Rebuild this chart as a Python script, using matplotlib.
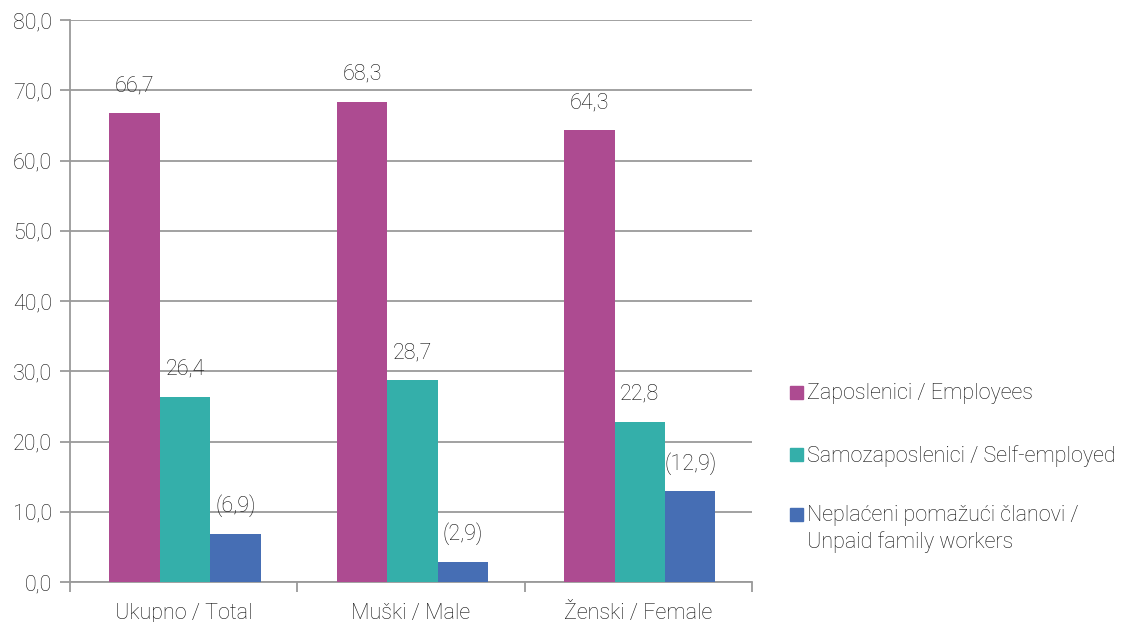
import numpy as np
import matplotlib.pyplot as plt
from matplotlib import patches

plt.rcParams['font.family'] = ['Roboto', 'DejaVu Sans']
plt.rcParams['font.weight'] = 'light'

# Podaci
categories = ["Ukupno / Total", "Muški / Male", "Ženski / Female"]
series = ["Zaposlenici / Employees",
          "Samozaposlenici / Self-employed",
          "Neplaćeni pomažući članovi /\nUnpaid family workers"]
employees = [66.7, 68.3, 64.3]
self_employed = [26.4, 28.7, 22.8]
unpaid = [6.9, 2.9, 12.9]
unpaid_labels = ["(6,9)", "(2,9)", "(12,9)"]
colors = ["#AD4B91", "#34AFAA", "#466EB4"]

FS = 15.5
TXT = "#111111"

fig = plt.figure(figsize=(11.24, 6.22), dpi=100)
ax = fig.add_axes([0.0623, 0.0643, 0.6068, 0.9035])

x = np.arange(len(categories))
w = 0.222
values = [employees, self_employed, unpaid]
for i, (vals, col) in enumerate(zip(values, colors)):
    pos = x + (i - 1) * w + 0.006
    ax.bar(pos, vals, width=w, color=col, zorder=3)
    for p, v, j in zip(pos, vals, range(len(vals))):
        if i == 2:
            txt = unpaid_labels[j]
        else:
            txt = f"{v:.1f}".replace(".", ",")
        ax.annotate(txt, (p, v), xytext=(0, 20), textcoords="offset points",
                    ha="center", va="center", fontsize=FS, color=TXT)

ax.set_ylim(0, 80)
ax.set_xlim(-0.5, 2.5)
ax.set_yticks(np.arange(0, 81, 10))
ax.set_yticklabels([f"{t:.1f}".replace(".", ",") for t in np.arange(0, 81, 10)])
ax.yaxis.grid(True, color="#9a9a9a", linewidth=1.3, zorder=0)
ax.set_axisbelow(True)

ax.set_xticks(x)
ax.set_xticklabels(categories)
ax.set_xticks([-0.5, 0.5, 1.5, 2.5], minor=True)
ax.tick_params(axis="x", which="major", length=0, pad=15, labelsize=FS, labelcolor=TXT)
ax.tick_params(axis="x", which="minor", length=7, width=1.3, color="#9a9a9a")
ax.tick_params(axis="y", length=7, width=1.3, color="#9a9a9a", labelsize=FS,
               labelcolor=TXT, pad=6)

for s in ["top", "right"]:
    ax.spines[s].set_visible(False)
for s in ["left", "bottom"]:
    ax.spines[s].set_color("#9a9a9a")
    ax.spines[s].set_linewidth(1.3)

# Legenda
leg_y = [392, 454, 514]
for yy, col, lab in zip(leg_y, colors, series):
    fy = 1 - yy / 622
    fig.patches.append(patches.Rectangle((790 / 1124, fy - 6.5 / 622), 13 / 1124, 13 / 622,
                                         transform=fig.transFigure, color=col))
    fig.text(807 / 1124, fy + 9 / 622, lab, ha="left", va="top", fontsize=FS,
             color=TXT, linespacing=1.3)

plt.savefig("out.png", dpi=100)
plt.close()
